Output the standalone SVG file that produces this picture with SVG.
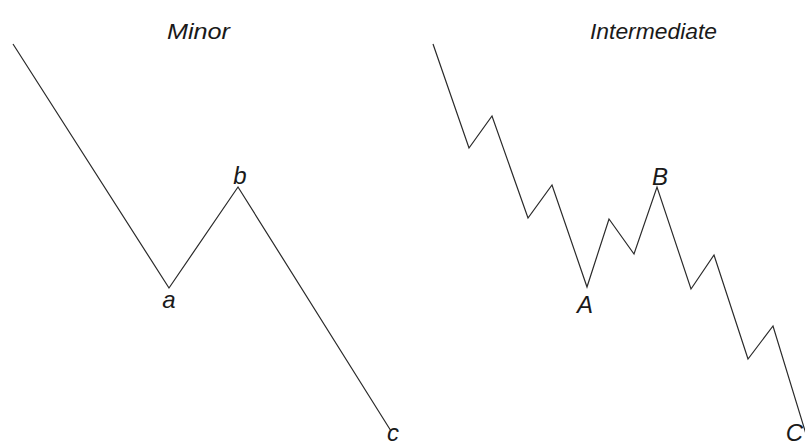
<svg xmlns="http://www.w3.org/2000/svg" width="805" height="446" viewBox="0 0 805 446">
<style>
.wave{fill:none;stroke:#2a2a2a;stroke-width:1.2;stroke-linejoin:miter}
.t{font-family:"Liberation Sans","DejaVu Sans",sans-serif;font-style:italic;fill:#1a1a1a}
.title{font-size:22px}
.lbl{font-size:24px}
</style>
<rect width="805" height="446" fill="#ffffff"/>
<g id="connectors">
<polyline id="minor-wave" class="wave" points="13,44 169,288 238,187 391,431"/>
<polyline id="intermediate-wave" class="wave" points="433,44 469,148 492,116 528,218 552,185 587,287 609,219 634,254 657,187 691,289 714,255 748,359 773,326 806,434"/>
</g>
<g id="title-minor"><text class="t title" x="167" y="39" textLength="63" lengthAdjust="spacingAndGlyphs">Minor</text></g>
<g id="title-intermediate"><text class="t title" x="590" y="39" textLength="127" lengthAdjust="spacingAndGlyphs">Intermediate</text></g>
<g id="node-a"><text class="t lbl" x="169" y="308" text-anchor="middle">a</text></g>
<g id="node-b"><text class="t lbl" x="240" y="184" text-anchor="middle">b</text></g>
<g id="node-c"><text class="t lbl" x="393" y="441" text-anchor="middle">c</text></g>
<g id="node-A"><text class="t lbl" x="585" y="313" text-anchor="middle">A</text></g>
<g id="node-B"><text class="t lbl" x="660" y="185" text-anchor="middle">B</text></g>
<g id="node-C"><text class="t lbl" x="803" y="441" text-anchor="end">C</text></g>
</svg>
